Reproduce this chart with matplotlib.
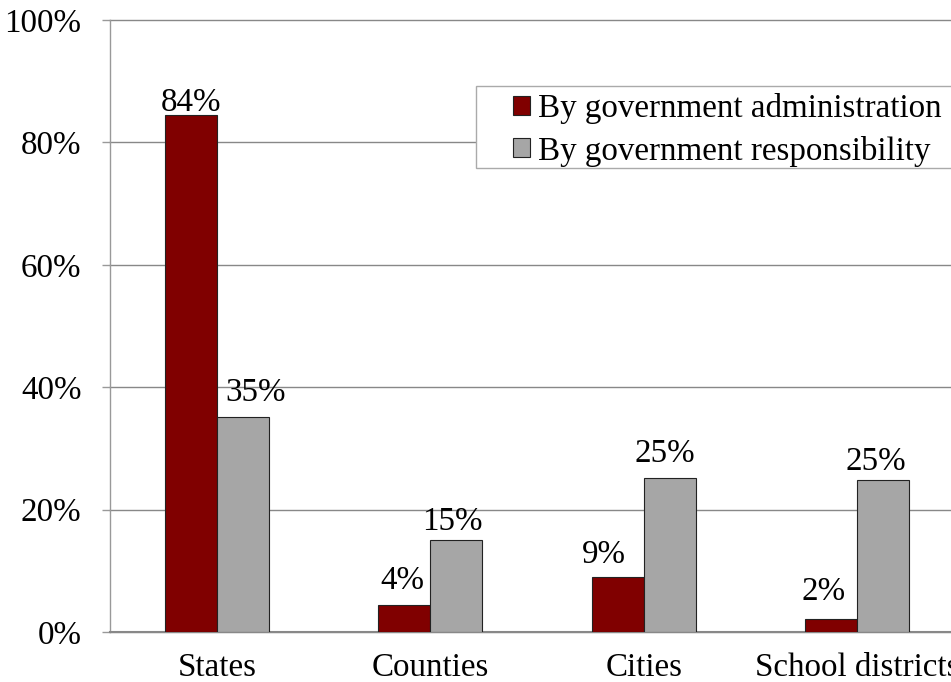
import matplotlib
matplotlib.use("Agg")
import matplotlib.pyplot as plt
from matplotlib.patches import Rectangle, Patch
import numpy as np

categories = ["States", "Counties", "Cities", "School districts"]
admin = [84.5, 4.4, 9.0, 2.1]
resp = [35.1, 15.0, 25.2, 24.8]
admin_labels = ["84%", "4%", "9%", "2%"]
resp_labels = ["35%", "15%", "25%", "25%"]
yticks = [0, 20, 40, 60, 80, 100]
ytick_labels = ["0%", "20%", "40%", "60%", "80%", "100%"]
series_names = ["By government administration", "By government responsibility"]

# label placement offsets (pixels): (dx, gap above bar)
admin_offsets = [(0, 4), (-2, 16), (-14, 14), (-8, 19)]
resp_offsets = [(13, 16), (-4, 10), (-5, 16), (-7, 10)]

plt.rcParams['font.family'] = ['Liberation Serif', 'DejaVu Serif']
FS = 23.8

W, H = 951, 682
fig = plt.figure(figsize=(W/100, H/100), dpi=100)
ax = fig.add_axes([110/W, (H-632)/H, 854/W, 612/H])

x = np.arange(len(categories))
w = 0.243
red = "#800000"
gray = "#a6a6a6"
b1 = ax.bar(x - w/2, admin, w, color=red, edgecolor="#222222", linewidth=0.8, zorder=3)
b2 = ax.bar(x + w/2, resp, w, color=gray, edgecolor="#222222", linewidth=0.8, zorder=3)

for bars, labels, offs in ((b1, admin_labels, admin_offsets), (b2, resp_labels, resp_offsets)):
    for rect, lab, (dx, dy) in zip(bars, labels, offs):
        ax.annotate(lab, (rect.get_x() + rect.get_width()/2, rect.get_height()),
                    xytext=(dx, dy), textcoords="offset pixels",
                    ha="center", va="baseline", fontsize=FS, zorder=4)

ax.set_xlim(-0.5, len(categories) - 0.5)
ax.set_ylim(0, 100)
ax.set_yticks(yticks)
ax.set_yticklabels(ytick_labels, fontsize=FS)
ax.set_xticks(x)
ax.set_xticklabels(categories, fontsize=FS)
ax.tick_params(axis='x', length=0, pad=15)
ax.tick_params(axis='y', length=6, width=1, color="#999999", pad=14.5)

ax.yaxis.grid(True, color="#888888", linewidth=1, zorder=0)
for t in ax.yaxis.get_gridlines():
    t.set_clip_on(False)
ax.set_axisbelow(True)
ax.spines['top'].set_visible(False)
ax.spines['right'].set_visible(False)
ax.spines['left'].set_color("#999999")
ax.spines['left'].set_linewidth(1)
ax.spines['bottom'].set_color("#888888")
ax.spines['bottom'].set_linewidth(1.5)

# legend frame
fig.patches.append(Rectangle((476/W, 1 - 168/H), 500/W, 82/H, transform=fig.transFigure,
                             facecolor="white", edgecolor="#aaaaaa", linewidth=1, zorder=5))
handles = [Patch(facecolor=red, edgecolor="#222222", linewidth=0.8),
           Patch(facecolor=gray, edgecolor="#222222", linewidth=0.8)]
leg = fig.legend(handles, series_names, loc="upper left",
                 bbox_to_anchor=(513/W, 1 - 93/H), bbox_transform=fig.transFigure,
                 frameon=False, fontsize=FS, handlelength=0.5, handleheight=0.5,
                 handletextpad=0.25, labelspacing=0.35, borderpad=0.0, borderaxespad=0)
leg.set_zorder(6)

fig.savefig("out.png", dpi=100)
